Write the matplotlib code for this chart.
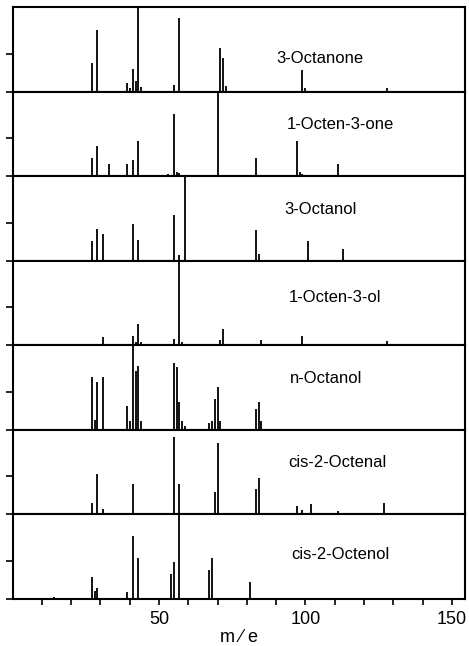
"""
Mass spectra of C8 volatiles, stacked panels sharing the m/e axis.
"""

import matplotlib
matplotlib.use("Agg")
import matplotlib.pyplot as plt

FONT = "Liberation Sans"

# peak heights in % of panel height (base peak fills the panel)
names = [
    "3-Octanone",
    "1-Octen-3-one",
    "3-Octanol",
    "1-Octen-3-ol",
    "n-Octanol",
    "cis-2-Octenal",
    "cis-2-Octenol",
]

octanone_mz = [27, 29, 39, 40, 41, 42, 43, 44, 55, 57, 71, 72, 73, 99, 100, 128]
octanone_int = [34, 73, 10, 4, 27, 12, 100, 5, 8, 87, 51, 40, 6, 26, 4, 4]

octenone_mz = [27, 29, 33, 39, 41, 43, 53, 55, 56, 57, 70, 83, 97, 98, 99, 111]
octenone_int = [21, 36, 14, 14, 19, 42, 3, 73, 5, 4, 100, 21, 41, 5, 3, 14]

octanol3_mz = [27, 29, 31, 41, 43, 55, 57, 59, 83, 84, 101, 113, 139]
octanol3_int = [23, 37, 31, 44, 24, 54, 7, 100, 36, 8, 23, 14, 1]

octenol_mz = [31, 41, 42, 43, 44, 55, 57, 58, 68, 71, 72, 81, 85, 99, 111, 128]
octenol_int = [10, 11, 4, 25, 4, 7, 100, 4, 2, 6, 19, 2, 6, 11, 2, 5]

octanol1_mz = [27, 28, 29, 31, 39, 40, 41, 42, 43, 44, 55, 56, 57, 58, 59,
               67, 68, 69, 70, 71, 83, 84, 85]
octanol1_int = [63, 12, 57, 62, 28, 10, 100, 70, 76, 10, 79, 74, 33, 10, 4,
                8, 10, 37, 51, 10, 25, 33, 10]

octenal_mz = [27, 29, 31, 41, 55, 57, 69, 70, 83, 84, 97, 99, 102, 111, 127]
octenal_int = [14, 48, 6, 36, 92, 36, 27, 85, 30, 43, 10, 5, 12, 4, 13]

octenol2_mz = [14, 27, 28, 29, 39, 41, 43, 54, 55, 57, 67, 68, 81]
octenol2_int = [2, 26, 10, 13, 8, 74, 48, 30, 44, 100, 34, 48, 20]

label_pos = [(105, 39), (112, 61), (105, 61), (110, 56), (107, 61), (111, 61), (112, 53)]

spectra = [
    (octanone_mz, octanone_int),
    (octenone_mz, octenone_int),
    (octanol3_mz, octanol3_int),
    (octenol_mz, octenol_int),
    (octanol1_mz, octanol1_int),
    (octenal_mz, octenal_int),
    (octenol2_mz, octenol2_int),
]

W, H = 469, 646
fig = plt.figure(figsize=(W / 100, H / 100), dpi=100)

top_px, bottom_px = 7, 599
left_px, right_px = 12.5, 465
panel_h = (bottom_px - top_px) / len(names)

for i, (name, (mz, inten)) in enumerate(zip(names, spectra)):
    panel_bottom = top_px + (i + 1) * panel_h
    ax = fig.add_axes([
        left_px / W,
        1 - panel_bottom / H,
        (right_px - left_px) / W,
        panel_h / H,
    ])
    ax.vlines(mz, 0, inten, color="black", lw=1.3)
    ax.set_xlim(0, 154.5)
    ax.set_ylim(0, 100)
    ax.set_yticks([0, 45])
    ax.set_yticklabels([])
    ax.tick_params(axis="y", direction="out", length=5, width=1.2)
    for s in ax.spines.values():
        s.set_linewidth(1.5)
    ax.text(
        label_pos[i][0], label_pos[i][1], name,
        ha="center", va="center", fontsize=12, family=FONT,
    )
    if i < len(names) - 1:
        ax.set_xticks([])
    else:
        ax.set_xticks([50, 100, 150])
        ax.set_xticks(range(10, 155, 10), minor=True)
        ax.tick_params(axis="x", which="both", direction="out", length=4, width=1.2)
        ax.tick_params(axis="x", which="major", labelsize=13, pad=5)
        for lab in ax.get_xticklabels():
            lab.set_family(FONT)
        ax.set_xlabel("m ⁄ e", fontsize=13, family=FONT, labelpad=0)

fig.savefig("out.png", dpi=100)
plt.close(fig)
